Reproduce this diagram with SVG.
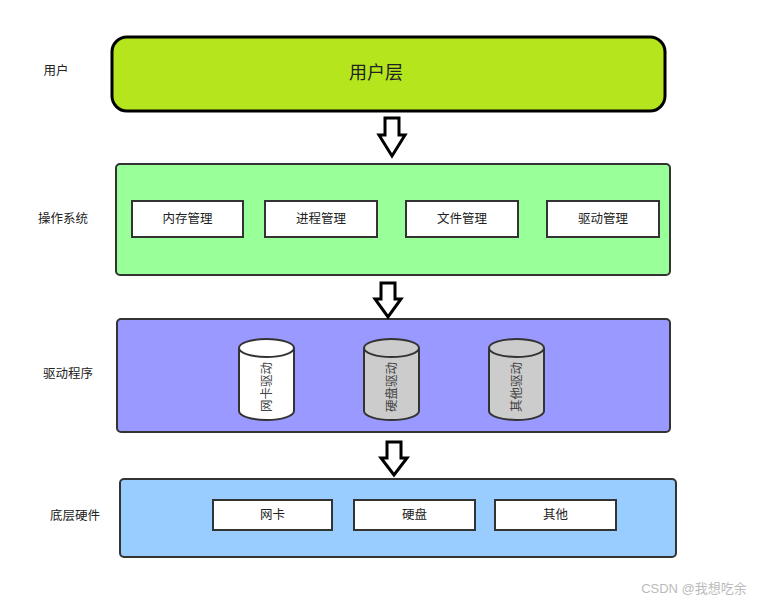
<svg xmlns="http://www.w3.org/2000/svg" width="757" height="601" viewBox="0 0 757 601">
<defs>
<style>
text{font-family:"Liberation Sans","Noto Sans CJK SC",sans-serif;fill:#222;}
.lbl{font-size:12.5px;text-anchor:middle;dominant-baseline:central;}
.ib{fill:#fff;stroke:#333;stroke-width:2;}
.layer{stroke:#333;stroke-width:2;}
.arrow{fill:#fff;stroke:#000;stroke-width:3;stroke-linejoin:miter;}
.cyl{stroke:#333;stroke-width:2;}
.ct{fill:#444;}
</style>
</defs>
<rect width="757" height="601" fill="#fff"/>
<g id="side-labels">
<text class="lbl" x="56" y="71">用户</text>
<text class="lbl" x="63" y="219">操作系统</text>
<text class="lbl" x="68" y="374">驱动程序</text>
<text class="lbl" x="75" y="516">底层硬件</text>
</g>
<g id="user-layer">
<rect x="112" y="37" width="553" height="74" rx="15" fill="#b5e61d" stroke="#000" stroke-width="3"/>
<text class="lbl" x="376" y="73" style="font-size:18px">用户层</text>
</g>
<g id="os-layer">
<rect class="layer" x="116" y="164" width="554" height="111" rx="4" fill="#99ff99"/>
<g id="mem"><rect class="ib" x="132" y="201" width="111" height="36"/><text class="lbl" x="187.5" y="219">内存管理</text></g>
<g id="proc"><rect class="ib" x="265" y="201" width="112" height="36"/><text class="lbl" x="321" y="219">进程管理</text></g>
<g id="file"><rect class="ib" x="406" y="201" width="112" height="36"/><text class="lbl" x="462" y="219">文件管理</text></g>
<g id="drvmgr"><rect class="ib" x="547" y="201" width="112" height="36"/><text class="lbl" x="603" y="219">驱动管理</text></g>
</g>
<g id="driver-layer">
<rect class="layer" x="117" y="319" width="553" height="113" rx="4" fill="#9999ff"/>
<g id="nic-drv">
<path class="cyl" d="M239,348 L239,411 A27.5,9 0 0 0 294,411 L294,348" fill="#fff"/>
<ellipse class="cyl" cx="266.5" cy="348" rx="27.5" ry="9" fill="#fff"/>
<text class="lbl ct" transform="translate(266.5,387) rotate(-90)">网卡驱动</text>
</g>
<g id="disk-drv">
<path class="cyl" d="M364,348 L364,411 A27.5,9 0 0 0 419,411 L419,348" fill="#ccc"/>
<ellipse class="cyl" cx="391.5" cy="348" rx="27.5" ry="9" fill="#ccc"/>
<text class="lbl ct" transform="translate(391.5,387) rotate(-90)">硬盘驱动</text>
</g>
<g id="other-drv">
<path class="cyl" d="M489,348 L489,411 A27.5,9 0 0 0 544,411 L544,348" fill="#ccc"/>
<ellipse class="cyl" cx="516.5" cy="348" rx="27.5" ry="9" fill="#ccc"/>
<text class="lbl ct" transform="translate(516.5,387) rotate(-90)">其他驱动</text>
</g>
</g>
<g id="hw-layer">
<rect class="layer" x="120" y="479" width="556" height="78" rx="4" fill="#99ccff"/>
<g id="nic"><rect class="ib" x="213" y="500" width="119" height="30"/><text class="lbl" x="272.5" y="515">网卡</text></g>
<g id="disk"><rect class="ib" x="354" y="500" width="121" height="30"/><text class="lbl" x="414.5" y="515">硬盘</text></g>
<g id="other"><rect class="ib" x="495" y="500" width="121" height="30"/><text class="lbl" x="555.5" y="515">其他</text></g>
</g>
<g id="connectors">
<path class="arrow" d="M385,118 L399,118 L399,135 L405,135 L392,156 L379,135 L385,135 Z"/>
<path class="arrow" d="M381,283 L395,283 L395,299 L401,299 L388,317 L375,299 L381,299 Z"/>
<path class="arrow" d="M387,442 L401,442 L401,458 L407,458 L394,475 L381,458 L387,458 Z"/>
</g>
<text x="694" y="588" style="font-size:13px;fill:#bbb;text-anchor:middle;dominant-baseline:central">CSDN @我想吃余</text>
</svg>
